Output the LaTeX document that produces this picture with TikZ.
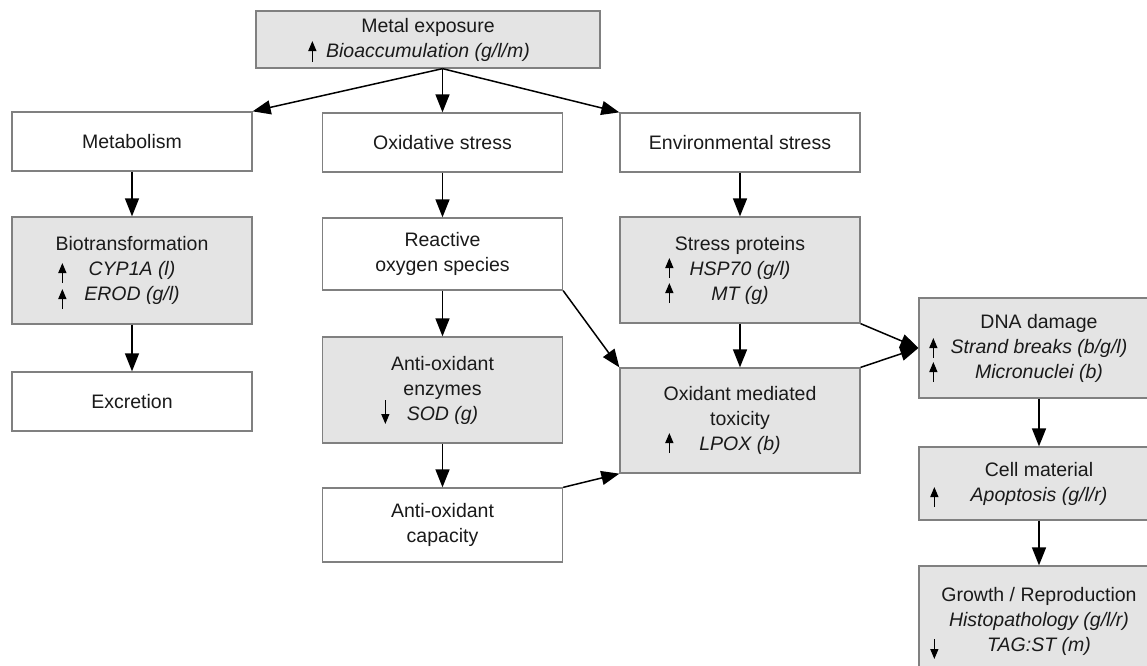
\documentclass[tikz,border=0pt]{standalone}
\usepackage{fontspec}
\setmainfont{Liberation Sans}
\usetikzlibrary{arrows.meta,calc}
\definecolor{boxgray}{HTML}{808080}
\definecolor{boxfill}{HTML}{E4E4E4}
\definecolor{txt}{HTML}{1A1A1A}
\begin{document}
\begin{tikzpicture}[x=1pt,y=-1pt,
  box/.style={draw=boxgray, line width=1.3pt, minimum width=240pt, inner sep=0pt,
    align=center, font=\fontsize{19.5}{25}\selectfont, text=txt},
  wbox/.style={box, fill=white},
  gbox/.style={box, fill=boxfill},
  conn/.style={draw=black, line width=1.5pt, -{Triangle[length=18pt,width=14pt]}},
  mini/.style={draw=black, line width=1.3pt, -{Triangle[length=10pt,width=8pt]}}]
\useasboundingbox (0,0) rectangle (1147,665);
\clip (0,0) rectangle (1147,665);
\fill[white] (0,0) rectangle (1147,665);

\node[gbox, minimum width=344pt, minimum height=57pt] (metal) at (428,39.5) {Metal exposure\\\textit{Bioaccumulation (g/l/m)}};
\node[wbox, minimum height=59pt] (metab) at (132,141.5) {Metabolism};
\node[wbox, minimum height=59pt] (oxs) at (442.5,142.5) {Oxidative stress};
\node[wbox, minimum height=59pt] (env) at (740,142.5) {Environmental stress};
\node[gbox, minimum height=107pt] (bio) at (132,270.5) {Biotransformation\\\textit{CYP1A (l)}\\\textit{EROD (g/l)}};
\node[wbox, minimum height=59pt] (exc) at (132,401.5) {Excretion};
\node[wbox, minimum height=72pt] (ros) at (442.5,254) {Reactive\\oxygen species};
\node[gbox, minimum height=106pt] (aoe) at (442.5,390) {Anti-oxidant\\enzymes\\\textit{SOD (g)}};
\node[wbox, minimum height=74pt] (aoc) at (442.5,525) {Anti-oxidant\\capacity};
\node[gbox, minimum height=106pt] (sp) at (740,270) {Stress proteins\\\textit{HSP70 (g/l)}\\\textit{MT (g)}};
\node[gbox, minimum height=105pt] (omt) at (740,420.5) {Oxidant mediated\\toxicity\\\textit{LPOX (b)}};
\node[gbox, minimum height=100pt] (dna) at (1039,348) {DNA damage\\\textit{Strand breaks (b/g/l)}\\\textit{Micronuclei (b)}};
\node[gbox, minimum height=73pt] (cell) at (1039,483.5) {Cell material\\\textit{Apoptosis (g/l/r)}};
\node[gbox, minimum height=110pt] (grow) at (1039,621) {Growth / Reproduction\\\textit{Histopathology (g/l/r)}\\\textit{TAG:ST (m)}};

% connectors
\coordinate (mo) at (oxs.north |- metal.south);
\draw[conn] (mo) -- (metab.north east);
\draw[conn] (mo) -- (oxs.north);
\draw[conn] (mo) -- (env.north west);
\draw[conn] (metab.south) -- (bio.north);
\draw[conn] (bio.south) -- (exc.north);
\draw[conn] (oxs.south) -- (ros.north);
\draw[conn] (ros.south) -- (aoe.north);
\draw[conn] (aoe.south) -- (aoc.north);
\draw[conn] (ros.south east) -- (omt.north west);
\draw[conn] (aoc.north east) -- (omt.south west);
\draw[conn] (env.south) -- (sp.north);
\draw[conn] (sp.south) -- (omt.north);
\draw[conn] (sp.south east) -- (dna.west);
\draw[conn] (omt.north east) -- (dna.west);
\draw[conn] (dna.south) -- (cell.north);
\draw[conn] (cell.south) -- (grow.north);

% small up/down indicators
\draw[mini] ($(metal.west)+(57,22.5)$) -- ++(0,-21);
\draw[mini] ($(bio.west)+(51,12.5)$) -- ++(0,-20);
\draw[mini] ($(bio.west)+(51,38.5)$) -- ++(0,-20);
\draw[mini] ($(aoe.west)+(63.5,10)$) -- ++(0,24);
\draw[mini] ($(sp.west)+(50,8)$) -- ++(0,-20);
\draw[mini] ($(sp.west)+(50,33)$) -- ++(0,-20);
\draw[mini] ($(omt.west)+(50,32.5)$) -- ++(0,-20);
\draw[mini] ($(dna.west)+(15,10)$) -- ++(0,-20);
\draw[mini] ($(dna.west)+(15,34)$) -- ++(0,-20);
\draw[mini] ($(cell.west)+(16,23.5)$) -- ++(0,-20);
\draw[mini] ($(grow.west)+(16,18)$) -- ++(0,20);
\end{tikzpicture}
\end{document}
